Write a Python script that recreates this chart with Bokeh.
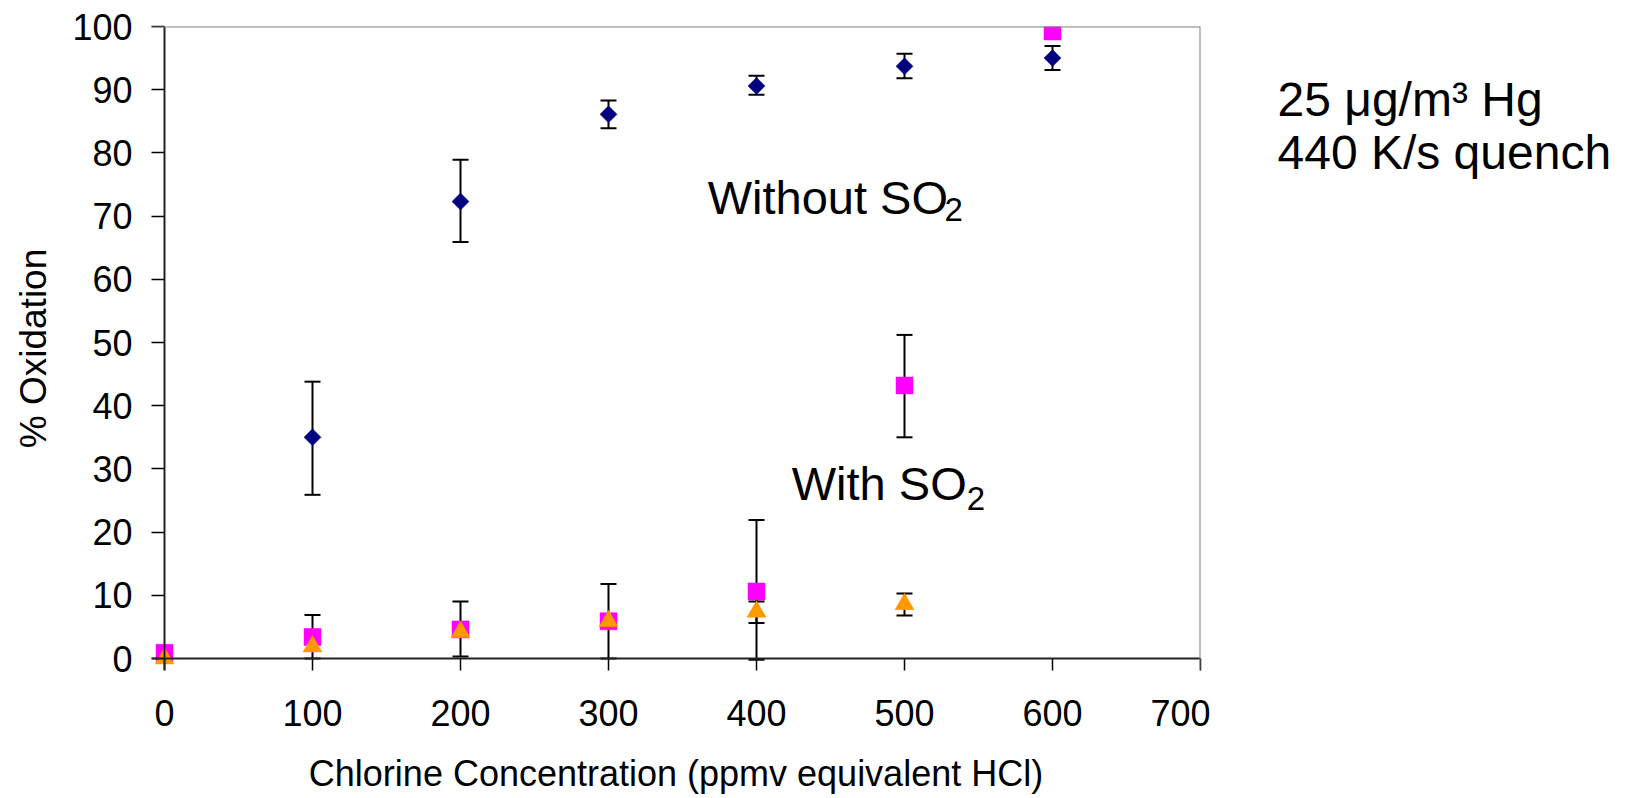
import numpy as np
from bokeh.plotting import figure
from bokeh.layouts import row
from bokeh.models import (ColumnDataSource, Whisker, TeeHead, Span, Label,
                          Range1d, SingleIntervalTicker)
from bokeh.embed import file_html
from bokeh.resources import INLINE

# ---------------- data ----------------
# Without SO2 (navy diamonds)
chlorine_without = [100, 200, 300, 400, 500, 600]
oxid_without = [35.0, 72.3, 86.1, 90.6, 93.7, 95.0]
without_upper = [43.8, 78.9, 88.3, 92.2, 95.7, 96.9]
without_lower = [25.9, 65.9, 83.9, 89.2, 91.8, 93.1]

# With SO2, series A (magenta squares)
chlorine_with_a = [0, 100, 200, 300, 400, 500, 600]
oxid_with_a = [0.9, 3.4, 4.6, 5.9, 10.6, 43.2, 99.2]
err_a_x = [100, 200, 300, 400, 500]
err_a_upper = [6.9, 9.0, 11.8, 21.9, 51.2]
err_a_lower = [0.0, 0.3, 0.0, -0.2, 35.0]

# With SO2, series B (orange triangles)
chlorine_with_b = [0, 100, 200, 300, 400, 500]
oxid_with_b = [0.0, 1.9, 4.2, 5.9, 7.4, 8.6]
err_b_x = [400, 500]
err_b_upper = [9.0, 10.3]
err_b_lower = [5.6, 6.8]

x_ticks_interval = 100
y_ticks_interval = 10
note_lines = ["25 \u03bcg/m\u00b3 Hg", "440 K/s quench"]

# ---------------- layout ----------------
H = 796
W1 = 1210
W2 = 410
frame_left, x0_px, frame_right = 151, 164, 1200
frame_top, y0_px, frame_bottom = 26, 658, 670
px_per_x = (frame_right - x0_px) / 700.0
px_per_y = (y0_px - frame_top) / 100.0
x_start = -(x0_px - frame_left) / px_per_x
y_start = -(frame_bottom - y0_px) / px_per_y

FONT = "Liberation Sans"

p = figure(width=W1, height=H,
           x_range=Range1d(x_start, 700), y_range=Range1d(y_start, 100),
           min_border_left=frame_left, min_border_right=W1 - frame_right,
           min_border_top=frame_top, min_border_bottom=H - frame_bottom,
           output_backend="svg", toolbar_location=None,
           background_fill_color="white", border_fill_color="white")
p.outline_line_color = None
p.grid.visible = False

# axes
for ax in (p.xaxis[0], p.yaxis[0]):
    ax.axis_line_color = None
    ax.major_tick_line_color = "black"
    ax.major_tick_line_width = 1.5
    ax.minor_tick_line_color = None
    ax.major_tick_out = 0
    ax.major_label_text_font = FONT
    ax.major_label_text_font_size = "36px"
    ax.major_label_text_color = "black"
    ax.axis_label_text_font = FONT
    ax.axis_label_text_font_style = "normal"
    ax.axis_label_text_color = "black"

p.xaxis[0].axis_label_text_font_size = "36px"
p.yaxis[0].axis_label_text_font_size = "37px"
p.xaxis[0].ticker = SingleIntervalTicker(interval=x_ticks_interval, num_minor_ticks=0)
p.yaxis[0].ticker = SingleIntervalTicker(interval=y_ticks_interval, num_minor_ticks=0)
p.xaxis[0].major_tick_in = frame_bottom - y0_px
p.yaxis[0].major_tick_in = x0_px - frame_left
p.xaxis[0].major_label_standoff = 29
p.yaxis[0].major_label_standoff = 19
p.xaxis[0].axis_label = "Chlorine Concentration (ppmv equivalent HCl)"
p.yaxis[0].axis_label = "% Oxidation"
p.xaxis[0].axis_label_standoff = 24
p.yaxis[0].axis_label_standoff = 15

# axis lines and frame border
p.add_layout(Span(location=0, dimension="height", line_color="#222222", line_width=2))
p.add_layout(Span(location=0, dimension="width", line_color="#222222", line_width=2))
p.add_layout(Span(location=100, dimension="width", line_color="#808080", line_width=2))
p.add_layout(Span(location=700, dimension="height", line_color="#808080", line_width=2))

# error bars
def add_whisker(xs, up, lo):
    src = ColumnDataSource(dict(x=xs, upper=up, lower=lo))
    w = Whisker(source=src, base="x", upper="upper", lower="lower",
                dimension="height", line_color="black", line_width=2,
                upper_head=TeeHead(size=16, line_width=2, line_color="black"),
                lower_head=TeeHead(size=16, line_width=2, line_color="black"))
    p.add_layout(w)

add_whisker(chlorine_without, without_upper, without_lower)
add_whisker(err_a_x, err_a_upper, err_a_lower)
add_whisker(err_b_x, err_b_upper, err_b_lower)

# markers
p.scatter(chlorine_with_a, oxid_with_a, marker="square", size=17,
          fill_color="#FF00FF", line_color="#FF00FF", line_width=0.5)
p.scatter(chlorine_with_b, oxid_with_b, marker="triangle", size=19,
          fill_color="#FF9900", line_color="#FF9900", line_width=0.5)
p.scatter(chlorine_without, oxid_without, marker="square", size=12, angle=np.pi / 4,
          fill_color="#000080", line_color="#000080", line_width=0.5)

# in-plot annotations
def add_label(fig, x, y, text, size):
    fig.add_layout(Label(x=x, y=y, text=text, text_font=FONT, text_font_size=size,
                         text_color="black", text_baseline="alphabetic", text_align="left"))

add_label(p, 367, 72.9, "Without SO", "47px")
add_label(p, 527, 71.0, "2", "33px")
add_label(p, 423.8, 27.7, "With SO", "47px")
add_label(p, 542, 25.3, "2", "33px")

# side note panel (right of the chart), sharing the chart's vertical scale
p2 = figure(width=W2, height=H, x_range=Range1d(0, W2), y_range=p.y_range,
            x_axis_type=None, y_axis_type=None,
            min_border_left=0, min_border_right=0,
            min_border_top=frame_top, min_border_bottom=H - frame_bottom,
            output_backend="svg", toolbar_location=None,
            background_fill_color="white", border_fill_color="white")
p2.outline_line_color = None
p2.grid.visible = False
note_x = 1277 - W1
add_label(p2, note_x, 88.4, note_lines[0], "48px")
add_label(p2, note_x, 80.1, note_lines[1], "48px")

layout = row(p, p2, spacing=0)
open("out.html", "w").write(file_html(layout, INLINE))
